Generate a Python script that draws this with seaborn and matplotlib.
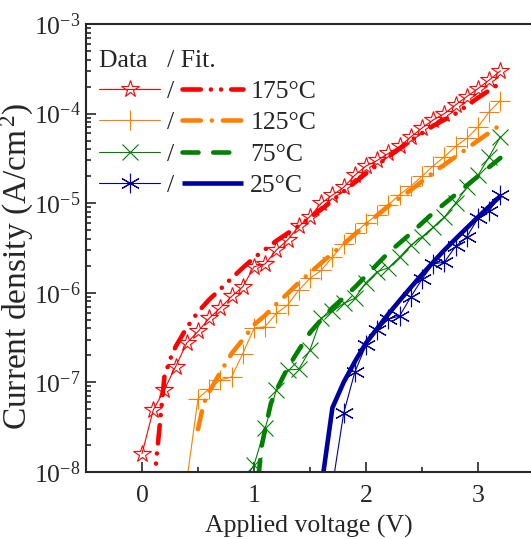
import matplotlib
matplotlib.use('Agg')
import matplotlib.pyplot as plt
from matplotlib.ticker import LogLocator, MultipleLocator, NullFormatter
import seaborn as sns

temps = ['175°C', '125°C', '75°C', '25°C']

v_175 = [0.0, 0.1, 0.2, 0.3, 0.4, 0.5, 0.6, 0.7, 0.8, 0.9, 1.0, 1.1, 1.2, 1.3, 1.4, 1.5, 1.6,
         1.7, 1.8, 1.9, 2.0, 2.1, 2.2, 2.3, 2.4, 2.5, 2.6, 2.7, 2.8, 2.9, 3.0, 3.1, 3.2]
j_175 = [1.6e-8, 4.9e-8, 8.3e-8, 1.5e-7, 2.75e-7, 3.7e-7, 5.2e-7, 6.8e-7, 9.1e-7, 1.17e-6,
         1.95e-6, 2.1e-6, 3.0e-6, 3.9e-6, 5.5e-6, 7.1e-6, 1.0e-5, 1.23e-5, 1.5e-5, 2.05e-5,
         2.6e-5, 3.0e-5, 3.6e-5, 4.3e-5, 5.5e-5, 6.9e-5, 8.5e-5, 1.0e-4, 1.25e-4, 1.55e-4,
         1.9e-4, 2.37e-4, 3.0e-4]
vf_175 = [0.1, 0.15, 0.2, 0.25, 0.3, 0.4, 0.5, 0.6, 0.7, 0.8, 0.9, 1.0, 1.2, 1.4, 1.6, 1.8,
          2.0, 2.2, 2.4, 2.6, 2.8, 3.0, 3.2]
jf_175 = [6e-9, 2.6e-8, 1.15e-7, 1.8e-7, 2.5e-7, 4.1e-7, 6.1e-7, 8.4e-7, 1.1e-6, 1.45e-6,
          1.9e-6, 2.45e-6, 3.8e-6, 5.6e-6, 8.5e-6, 1.35e-5, 2.15e-5, 3.3e-5, 5.0e-5, 7.3e-5,
          1.0e-4, 1.5e-4, 2.2e-4]

v_125 = [0.4, 0.5, 0.6, 0.7, 0.8, 0.9, 1.0, 1.1, 1.2, 1.3, 1.4, 1.5, 1.6, 1.7, 1.8, 1.9, 2.0,
         2.1, 2.2, 2.3, 2.4, 2.5, 2.6, 2.7, 2.8, 2.9, 3.0, 3.1, 3.2]
j_125 = [8e-9, 6.6e-8, 8.5e-8, 1.07e-7, 1.15e-7, 2.1e-7, 4.0e-7, 4.2e-7, 5.9e-7, 7.3e-7,
         1.07e-6, 1.45e-6, 1.78e-6, 2.5e-6, 3.5e-6, 4.6e-6, 6.0e-6, 7.4e-6, 9.6e-6, 1.25e-5,
         1.55e-5, 2.0e-5, 2.6e-5, 3.3e-5, 4.3e-5, 5.3e-5, 7.1e-5, 1.05e-4, 1.4e-4]
vf_125 = [0.5, 0.55, 0.6, 0.7, 0.8, 0.9, 1.0, 1.1, 1.2, 1.3, 1.4, 1.6, 1.8, 2.0, 2.2, 2.4,
          2.6, 2.8, 3.0, 3.2]
jf_125 = [3.0e-8, 5.8e-8, 7.8e-8, 1.3e-7, 2.1e-7, 3.0e-7, 4.4e-7, 5.6e-7, 7.5e-7, 9.8e-7,
          1.3e-6, 2.15e-6, 3.5e-6, 5.8e-6, 9.3e-6, 1.4e-5, 2.2e-5, 3.3e-5, 5.0e-5, 7.5e-5]

v_75 = [0.9, 1.0, 1.1, 1.2, 1.3, 1.4, 1.5, 1.6, 1.7, 1.8, 1.9, 2.0, 2.1, 2.2, 2.3, 2.4, 2.5,
        2.6, 2.7, 2.8, 2.9, 3.0, 3.1, 3.2]
j_75 = [7.5e-9, 1.2e-8, 3.1e-8, 8.3e-8, 1.38e-7, 1.4e-7, 2.3e-7, 5.2e-7, 6.2e-7, 7.6e-7,
        8.7e-7, 1.3e-6, 1.72e-6, 1.9e-6, 2.5e-6, 3.4e-6, 4.2e-6, 5.4e-6, 7.0e-6, 1.0e-5,
        1.5e-5, 2.05e-5, 3.3e-5, 5.5e-5]
vf_75 = [1.04, 1.07, 1.1, 1.15, 1.2, 1.3, 1.4, 1.5, 1.6, 1.7, 1.8, 1.9, 2.0, 2.2, 2.4, 2.6,
         2.8, 3.0, 3.2]
jf_75 = [9e-9, 2.0e-8, 3.0e-8, 5.8e-8, 8.2e-8, 1.45e-7, 2.3e-7, 3.6e-7, 5.0e-7, 6.8e-7,
         8.8e-7, 1.15e-6, 1.55e-6, 2.8e-6, 4.6e-6, 7.8e-6, 1.25e-5, 2.0e-5, 3.2e-5]

v_25 = [1.7, 1.8, 1.9, 2.0, 2.1, 2.2, 2.3, 2.4, 2.5, 2.6, 2.7, 2.8, 2.9, 3.0, 3.1, 3.2]
j_25 = [7e-9, 4.5e-8, 1.3e-7, 2.6e-7, 3.8e-7, 5.1e-7, 5.5e-7, 9e-7, 1.42e-6, 2.1e-6, 2.2e-6,
        3.3e-6, 4.2e-6, 6.8e-6, 8.2e-6, 1.23e-5]
vf_25 = [1.6, 1.7, 1.8, 1.9, 2.0, 2.1, 2.2, 2.3, 2.4, 2.5, 2.6, 2.7, 2.8, 2.9, 3.0, 3.1, 3.2]
jf_25 = [6.6e-9, 5.2e-8, 1.0e-7, 1.7e-7, 2.75e-7, 4.0e-7, 5.8e-7, 8.2e-7, 1.15e-6, 1.6e-6,
         2.2e-6, 3.0e-6, 4.0e-6, 5.3e-6, 7.0e-6, 9.2e-6, 1.2e-5]


def main():
    sns.set_style('ticks')
    plt.rcParams['font.family'] = ['Liberation Serif', 'DejaVu Serif']
    plt.rcParams['mathtext.fontset'] = 'custom'
    plt.rcParams['mathtext.rm'] = 'Liberation Serif'
    plt.rcParams['mathtext.it'] = 'Liberation Serif:italic'
    fs = 18.5

    fig = plt.figure(figsize=(5.31, 5.39), dpi=100)
    ax = fig.add_axes([86 / 531, 67 / 539, 445 / 531, 448 / 539])
    ax.set_yscale('log')

    series = [
        (v_175, j_175, vf_175, jf_175, '#ff0000', '*', 13, (0, (4, 2.2, 0.01, 2.2, 0.01, 2.2))),
        (v_125, j_125, vf_125, jf_125, '#ff8000', '+', 14, (0, (4, 2.4, 0.01, 2.4))),
        (v_75, j_75, vf_75, jf_75, '#008000', 'x', 11, (0, (3.5, 3.2))),
        (v_25, j_25, vf_25, jf_25, '#0000a0', (6, 2, 0), 14, '-'),
    ]

    data_lines, fit_lines = [], []
    for v, j, vf, jf, c, mk, ms, ls in series:
        sns.lineplot(x=v, y=j, ax=ax, color=c, lw=0.8, marker=mk, ms=ms,
                     mfc='none', mec=c, mew=0.8, sort=False)
        data_lines.append(ax.lines[-1])
        sns.lineplot(x=vf, y=jf, ax=ax, color=c, lw=3.3, linestyle=ls,
                     dash_capstyle='round', solid_capstyle='butt', sort=False)
        fit_lines.append(ax.lines[-1])

    ax.set_xlim(-0.5, -0.5 + 445 / 112)
    ax.set_ylim(1e-8, 1e-3)
    ax.xaxis.set_major_locator(MultipleLocator(1))
    ax.xaxis.set_minor_locator(MultipleLocator(0.5))
    ax.yaxis.set_major_locator(LogLocator(base=10, numticks=10))
    ax.yaxis.set_minor_locator(LogLocator(base=10, subs=range(2, 10), numticks=10))
    ax.yaxis.set_minor_formatter(NullFormatter())
    ax.tick_params(which='both', direction='in', top=False, right=False,
                   labelsize=fs, width=1.2)
    ax.tick_params(which='major', length=7)
    ax.tick_params(which='minor', length=3.5)
    ax.tick_params(axis='x', pad=9)
    ax.tick_params(axis='y', pad=4)
    ax.spines['right'].set_visible(False)
    for s in ['left', 'bottom', 'top']:
        ax.spines[s].set_linewidth(1.5)

    ax.set_xlabel('Applied voltage (V)', fontsize=fs, labelpad=6)
    ax.set_ylabel(r'Current density (A/cm$^{\,2}$)', fontsize=24, labelpad=-1.5, y=0.46)

    ax.legend(data_lines + fit_lines, ['/'] * 4 + temps, ncol=2,
              title='Data   / Fit.', alignment='left', frameon=False,
              loc='upper left', bbox_to_anchor=(0.03, 0.943),
              handlelength=2.35, handletextpad=0.3, columnspacing=0.3,
              labelspacing=0.33, fontsize=fs, title_fontsize=fs,
              borderaxespad=0, borderpad=0)

    fig.savefig('out.png', dpi=100)
    plt.close(fig)


if __name__ == '__main__':
    main()
